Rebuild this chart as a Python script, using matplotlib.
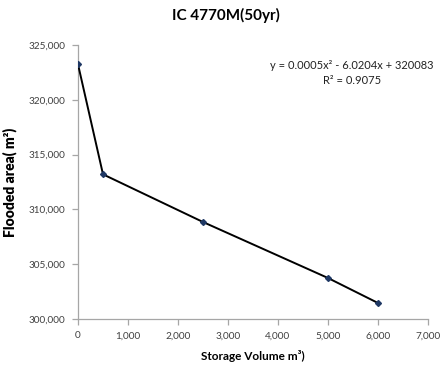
import matplotlib
matplotlib.use("Agg")
import matplotlib.pyplot as plt
from matplotlib.ticker import FuncFormatter, MultipleLocator

plt.rcParams['font.family'] = ['Lato', 'DejaVu Sans']

storage_volume = [0, 500, 2500, 5000, 6000]
flooded_area = [323240, 313200, 308850, 303740, 301460]

title = "IC 4770M(50yr)"
x_label = "Storage Volume m\u00b3)"
y_label = "Flooded area( m\u00b2)"
equation = "y = 0.0005x\u00b2 - 6.0204x + 320083\nR\u00b2 = 0.9075"

fig = plt.figure(figsize=(4.40, 3.69), dpi=100)
ax = fig.add_axes([78 / 440, 1 - 319 / 369, (428 - 78) / 440, (319 - 45) / 369])

ax.plot(storage_volume, flooded_area, color="black", linewidth=1.4,
        marker="D", markersize=3, markerfacecolor="#1f3864",
        markeredgecolor="#1f3864", zorder=3)

ax.set_xlim(0, 7000)
ax.set_ylim(300000, 325000)
ax.xaxis.set_major_locator(MultipleLocator(1000))
ax.yaxis.set_major_locator(MultipleLocator(5000))
fmt = FuncFormatter(lambda v, p: f"{int(v):,}")
ax.xaxis.set_major_formatter(fmt)
ax.yaxis.set_major_formatter(fmt)

for side in ("top", "right"):
    ax.spines[side].set_visible(False)
for side in ("left", "bottom"):
    ax.spines[side].set_color("#a6a6a6")
    ax.spines[side].set_linewidth(0.9)
ax.tick_params(axis="both", direction="out", length=4, width=0.9,
               color="#a6a6a6", labelsize=7.2, labelcolor="#404040", pad=5)

fig.text(226 / 440, 1 - 15 / 369, title, ha="center", va="center",
         fontsize=11, fontweight="bold")
ax.set_xlabel(x_label, fontsize=8.5, fontweight="bold", labelpad=7)
ax.set_ylabel(y_label, fontsize=10, fontweight="heavy", labelpad=8)

fig.text(352 / 440, 1 - 73 / 369, equation, ha="center", va="center",
         fontsize=8, color="#222222", linespacing=1.35)

fig.savefig("out.png", dpi=100)
